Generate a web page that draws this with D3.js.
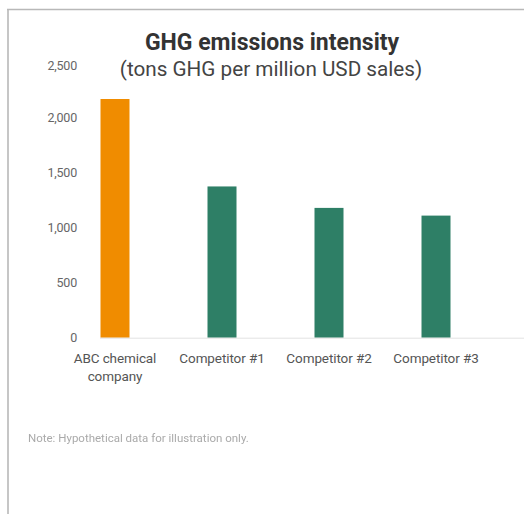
<!DOCTYPE html>
<html>
<head>
<meta charset="utf-8">
<script src="https://cdn.jsdelivr.net/npm/d3@7"></script>
<style>
  html, body { margin: 0; padding: 0; background: #fff; }
  svg { display: block; }
</style>
</head>
<body>
<svg id="chart" width="524" height="514"></svg>
<script>
// Chart data
const categories = ["ABC chemical company", "Competitor #1", "Competitor #2", "Competitor #3"];
const categoryLines = [["ABC chemical", "company"], ["Competitor #1"], ["Competitor #2"], ["Competitor #3"]];
const intensity = [2170, 1375, 1180, 1110];
const barColors = ["#f08c00", "#2e7f66", "#2e7f66", "#2e7f66"];
const yTicks = [0, 500, 1000, 1500, 2000, 2500];
const title = "GHG emissions intensity";
const subtitle = "(tons GHG per million USD sales)";
const note = "Note: Hypothetical data for illustration only.";

const svg = d3.select("#chart");
const font = "Roboto, 'Noto Sans', sans-serif";

// Frame lines (top and left edges)
svg.append("line").attr("x1", 7).attr("x2", 524).attr("y1", 9.5).attr("y2", 9.5)
  .attr("stroke", "#b8b8b8").attr("stroke-width", 1.6);
svg.append("line").attr("x1", 8).attr("x2", 8).attr("y1", 9).attr("y2", 514)
  .attr("stroke", "#b8b8b8").attr("stroke-width", 1.6);

// Scales
const x = d3.scaleBand()
  .domain(categories)
  .range([100.5, 450.5])
  .paddingInner(0.729)
  .paddingOuter(0);

const y = d3.scaleLinear()
  .domain([0, 2500])
  .range([337.7, 62.7]);

// Y axis labels (no domain line, no tick marks)
const yAxis = svg.append("g")
  .attr("transform", "translate(77,0)")
  .call(d3.axisLeft(y).tickValues(yTicks).tickSize(0).tickPadding(0).tickFormat(d3.format(",")));
yAxis.select(".domain").remove();
yAxis.selectAll("text")
  .attr("font-family", font)
  .attr("font-size", 12.5)
  .attr("fill", "#666")
  .attr("dy", "0.32em")
  .attr("letter-spacing", "-0.2");
yAxis.selectAll("text").filter(d => d === 2500).attr("y", 3);

// Bars
svg.append("g").selectAll("rect")
  .data(categories)
  .join("rect")
  .attr("x", d => x(d))
  .attr("width", x.bandwidth())
  .attr("y", (d, i) => y(intensity[i]))
  .attr("height", (d, i) => y(0) - y(intensity[i]))
  .attr("fill", (d, i) => barColors[i]);

// Baseline
svg.append("line")
  .attr("x1", 100).attr("x2", 524)
  .attr("y1", y(0) + 0.5).attr("y2", y(0) + 0.5)
  .attr("stroke", "#e2e2e2").attr("stroke-width", 1);

// X category labels
const xl = svg.append("g").selectAll("text")
  .data(categories)
  .join("text")
  .attr("x", d => x(d) + x.bandwidth() / 2)
  .attr("y", 363)
  .attr("text-anchor", "middle")
  .attr("font-family", font)
  .attr("font-size", 13.5)
  .attr("fill", "#555")
  .attr("letter-spacing", "-0.1");
xl.selectAll("tspan")
  .data((d, i) => categoryLines[i])
  .join("tspan")
  .attr("x", function() { return this.parentNode.getAttribute("x"); })
  .attr("dy", (d, i) => i === 0 ? 0 : 18)
  .text(d => d);

// Title and subtitle
svg.append("text")
  .attr("x", 272).attr("y", 50)
  .attr("text-anchor", "middle")
  .attr("font-family", font)
  .attr("font-weight", 700)
  .attr("font-size", 23)
  .attr("fill", "#333")
  .text(title);
svg.append("text")
  .attr("x", 271).attr("y", 76)
  .attr("text-anchor", "middle")
  .attr("font-family", font)
  .attr("font-size", 20.7)
  .attr("fill", "#444")
  .text(subtitle);

// Footnote
const defs = svg.append("defs");
defs.append("filter").attr("id", "soft")
  .append("feGaussianBlur").attr("stdDeviation", 0.6);
svg.append("text")
  .attr("x", 28).attr("y", 442)
  .attr("font-family", font)
  .attr("font-size", 11.5)
  .attr("fill", "#aaa")
  .attr("filter", "url(#soft)")
  .text(note);
</script>
</body>
</html>
